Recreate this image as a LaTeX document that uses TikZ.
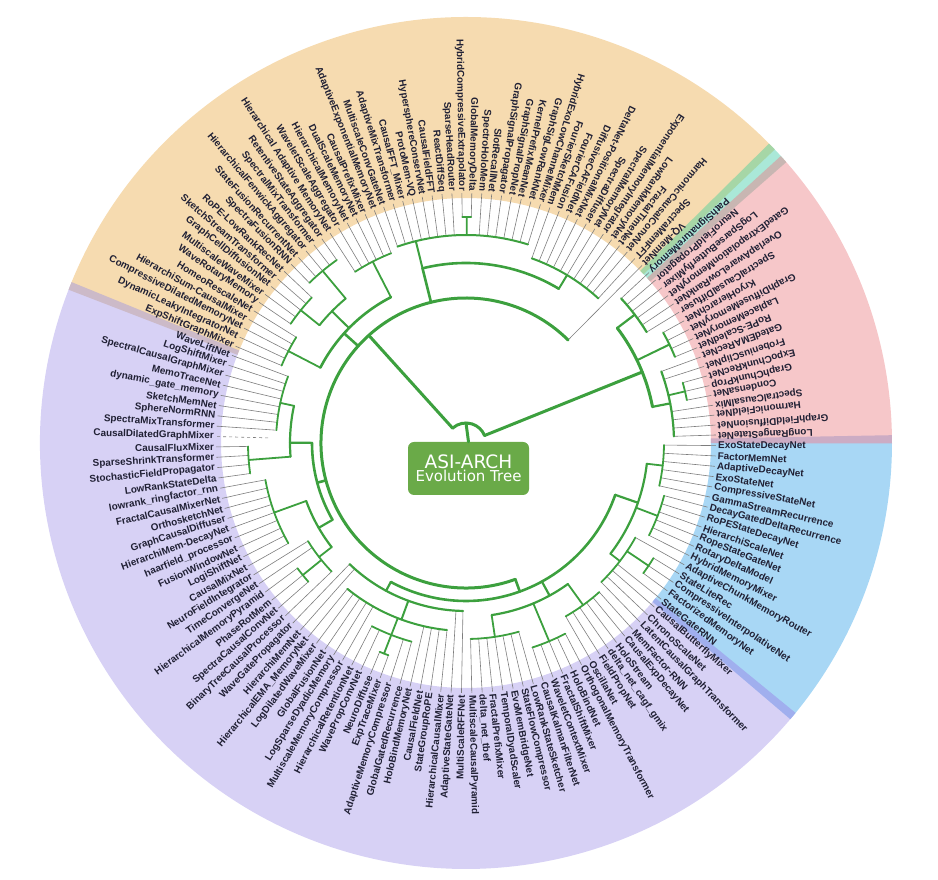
\documentclass[tikz,border=0pt]{standalone}
\usepackage{fontspec}
\setmainfont{Liberation Sans}
\newfontfamily\titlefont{DejaVu Sans}
\usepackage{tikz}
\usetikzlibrary{calc}

\definecolor{orangeSec}{RGB}{246,219,176}
\definecolor{purpleSec}{RGB}{215,209,245}
\definecolor{blueSec}{RGB}{168,215,245}
\definecolor{redSec}{RGB}{246,199,201}
\definecolor{tealSec}{RGB}{170,232,216}
\definecolor{opBand}{RGB}{204,186,200}
\definecolor{pbBand}{RGB}{160,175,238}
\definecolor{rbBand}{RGB}{204,172,196}
\definecolor{otBand}{RGB}{166,214,166}
\definecolor{trBand}{RGB}{200,182,178}
\definecolor{treeGreen}{RGB}{60,160,62}
\definecolor{leafGray}{RGB}{125,125,125}
\definecolor{labelInk}{RGB}{32,32,52}
\definecolor{boxGreen}{RGB}{106,170,72}

% leaf index -> angle (clockwise from east)
\pgfmathdeclarefunction{leafang}{1}{%
  \pgfmathparse{(#1<=85)*(0.6+(#1-1)*2.38)+(#1>85)*(200.5+(#1-85)*2.285)}}

% colored ring sector between two angles
\newcommand{\sectorfill}[3]{%
  \fill[#1] (-#2:245pt) arc[start angle=-#2, end angle=-#3, radius=245pt]
    -- (-#3:426pt) arc[start angle=-#3, end angle=-#2, radius=426pt] -- cycle;}

\tikzset{
  treeline/.style={draw=treeGreen, line cap=round},
  leafline/.style={draw=leafGray, line width=0.6pt},
  leafname/.style={font=\fontsize{9.9}{11}\selectfont\bfseries, text=labelInk, inner sep=0pt},
  centerbox/.style={fill=boxGreen, rounded corners=6pt, minimum width=121pt,
    minimum height=53pt, text=white, align=center, inner sep=0pt}
}

\begin{document}
\begin{tikzpicture}
\useasboundingbox (0,0) rectangle (938pt,880pt);
\begin{scope}[shift={(466pt,437pt)}]

    % Sectors
    \sectorfill{blueSec}{359.5}{399.87}
    \sectorfill{purpleSec}{39.87}{201.64}
    \sectorfill{orangeSec}{201.64}{315.9}
    \sectorfill{tealSec}{315.9}{318.2}
    \sectorfill{redSec}{318.2}{359.5}
    \sectorfill{rbBand}{358.95}{360.05}
    \sectorfill{pbBand}{39.32}{40.42}
    \sectorfill{opBand}{201.09}{202.19}
    \sectorfill{otBand}{315.35}{316.45}
    \sectorfill{trBand}{317.65}{318.75}

    % Leaves
    \foreach \i/\rr/\name in {
      1/198/ExoStateDecayNet, 2/198/FactorMemNet, 3/198/AdaptiveDecayNet,
      4/198/ExoStateNet, 5/198/CompressiveStateNet, 6/198/GammaStreamRecurrence,
      7/205/DecayGatedDeltaRecurrence, 8/205/RoPEStateDecayNet, 9/205/HierarchiScaleNet,
      10/205/RopeStateGateNet, 11/205/RotaryDeltaModel, 12/205/HybridMemoryMixer,
      13/194/AdaptiveChunkMemoryRouter, 14/220/StateLiteRec, 15/220/CompressiveInterpolativeNet,
      16/220/FactorizedMemoryNet, 17/194/StateGateRNN, 18/194/CausalButterflyMixer,
      19/194/ChronoScaleNet, 20/194/LatentCausalGraphTransformer, 21/200/MemFactor-RNN,
      22/200/CausalExpDecayNet, 23/200/HoloStream, 24/200/delta\_net\_cagf\_gmix,
      25/200/FieldPropNet, 26/200/OscillaNet, 27/215/OrthogonalMemoryTransformer,
      28/215/HoloBindNet, 29/215/FractalShiftMixer, 30/215/WaveletContextMixer,
      31/215/CausalKalmanFilterNet, 32/196/LowRankStateSketcher, 33/196/StateFlowCompressor,
      34/196/EvoMemBridgeNet, 35/196/TemporalDyadScaler, 36/196/FractalPrefixMixer,
      37/196/delta\_net\_tbef, 38/196/MultiscaleCausalPyramid, 39/168/MultiScaleRFFNet,
      40/168/AdaptiveStateGateNet, 41/188/HierarchicalCausalMixer, 42/188/StateGroupRoPE,
      43/188/CausalFieldNet, 44/188/HoloBindMemoryNet, 45/206/GlobalGatedRecurrence,
      46/206/AdaptiveMemoryCompressor, 47/226/ExpTraceMixer, 48/226/NeuroDiffuse,
      49/206/WavePropConvNet, 50/206/HierarchicalRetentionNet, 51/188/MultiscaleMemoryCompressor,
      52/188/LogSparseDyadicMemory, 53/188/GlobalFusionNet, 54/188/LogDilatedWaveMixer,
      55/188/HierarchicalEMA\_MemoryNet, 56/168/HierarchiMemNet, 57/168/WaveGatePropagator,
      58/186/BinaryTreeCausalProcessor, 59/210/SpectraCausalConvNet, 60/210/PhaseRotMem,
      61/210/HierarchicalMemoryPyramid, 62/186/TimeConvergeNet, 63/186/NeuroFieldIntegrator,
      64/204/CausalMixNet, 65/204/LogiShiftNet, 66/204/FusionWindowNet,
      67/204/haarfield\_processor, 68/204/HierarchiMem-DecayNet, 69/204/GraphCausalDiffuser,
      70/204/OrthosketchNet, 71/204/FractalCausalMixerNet, 72/204/lowrank\_ringfactor\_rnn,
      73/218/LowRankStateDelta, 74/218/StochasticFieldPropagator, 75/218/SparseShrinkTransformer,
      76/218/CausalFluxMixer, 78/190/SpectraMixTransformer, 79/190/SphereNormRNN,
      80/190/SketchMemNet, 81/190/dynamic\_gate\_memory, 82/190/MemoTraceNet,
      83/190/SpectralCausalGraphMixer, 84/190/LogShiftMixer, 85/190/WaveLiftNet,
      86/200/ExpShiftGraphMixer, 87/200/DynamicLeakyIntegratorNet, 88/200/CompressiveDilatedMemoryNet,
      89/200/HierarchiSum-CausalMixer, 90/200/HomeoRescaleNet, 91/212/WaveRotaryMemory,
      92/212/MultiscaleWaveMixer, 93/212/GraphCellDiffusionNet, 94/212/SketchStreamTransformer,
      95/212/RoPE-LowRankRecNet, 96/224/SpectraFusionRNN, 97/224/StateFusionRecurrentNet,
      98/224/HierarchicalFenwickAggregator, 99/224/SpectralMixTransformer, 100/224/RetentiveStateAggregator,
      101/204/Hierarchical Adaptive MemoryNet, 102/204/WaveletScaleAggregator, 103/204/HierarchicalMemoryNet,
      104/204/DualScaleMemoryNet, 105/204/CausalPrefixMixer, 106/204/AdaptiveExponentialMemoryNet,
      107/208/MultiscaleConvGateNet, 108/208/AdaptiveMixTransformer, 109/208/CausalFFT\_Mixer,
      110/208/ProtoMem-VQ, 111/208/HypersphereConservNet, 112/208/CausalFieldFFT,
      113/208/ReactDiffSeq, 114/208/SparseHeadRouter, 115/226/HybridCompressiveExtrapolator,
      116/226/GlobalMemoryDelta, 117/208/SpectroHoloMem, 118/208/SlotRecallNet,
      119/208/GraphSignalPropagator, 120/208/GraphSignalPropNet, 121/208/KernelPrefixMeanNet,
      122/208/GraphSigLowRankNet, 123/208/HybridExoLowChannelMixer, 124/196/FourierSketchMem,
      125/196/FourierCAFusion, 126/196/DiffusiveCAFieldNet, 127/196/DeltaNet-PositionalMixNet,
      128/196/SpectraDiffuser, 129/196/SpectralMemoryNet, 130/196/ExponentialMemoryIntegrator,
      131/196/LowRankMemoryNet, 132/196/FractalTimeNet, 133/196/HarmonicCausalConvNet,
      134/196/SpectraMemFFT, 135/145/VQ-MemNet, 136/212/PathSignatureMemory,
      137/212/NeuroFieldPropagator, 138/212/LogSparseButterflyMixer, 139/212/GatedExtrapolationMemoryNet,
      140/212/OverlapAwareLowRankNet, 141/212/SpectralCausalDiffuser, 142/226/KryoHierarchNet,
      143/226/GraphDiffuseMemoryNet, 144/226/LaplaceMemoryNet, 145/226/RoPE-ScaledNet,
      146/208/GatedEMARecNet, 147/208/FrobeniusClipNet, 148/225/ExpoChunkRecNet,
      149/225/GraphChunkProp, 150/225/CondensaNet, 151/208/SpectralCausalMix,
      152/208/HarmonicFieldNet, 153/208/GraphFieldDiffusionNet, 154/208/LongRangeStateNet}{
      \pgfmathsetmacro\la{leafang(\i)}
      \draw[leafline] (-\la:\rr pt) -- (-\la:250pt);
      \ifnum\i<39
        \node[leafname, anchor=west, rotate=-\la] (leaf\i) at (-\la:252pt) {\name};
      \else
        \node[leafname, anchor=east, rotate=180-\la] (leaf\i) at (-\la:252pt) {\name};
      \fi
    }
    \pgfmathsetmacro\la{leafang(77)}
    \draw[leafline, dashed] (-\la:198pt) -- (-\la:250pt);
    \node[leafname, anchor=east, rotate=180-\la] (leaf77) at (-\la:252pt) {CausalDilatedGraphMixer};

    % Branches: position / parent radius / radius / span from / span to / width
    \foreach \pos/\rp/\ro/\sa/\sb/\w in {
      97/20/145/30.2/135/3.0, 145.2/20/190/138.5/150/3.0,
      30.2/145/158/8.8/50.5/2.6, 70.1/145/154/63.8/76.4/2.6,
      94.4/145/164/88/103.5/2.6, 109.3/145/180/109.3/129/2.6,
      8.8/158/182/3.5/16.5/2.2, 26.5/158/174/23.5/35/2.2, 50.5/158/168/39/57/2.2,
      3.5/182/198/1/6/1.8, 9.5/182/205/7/12/1.8, 16.5/182/194/13/20/1.8, 15/194/220/14/16/1.8,
      23.5/174/200/21/26/1.8, 29/174/215/27/31/1.8, 35/174/196/32/38/1.8,
      47/168/188/41/55/2.0, 47.5/188/206/45/50/1.8, 47.5/206/226/47/48/1.8,
      63.8/154/170/60.5/68/2.2, 60.5/170/186/58/63/1.8, 60/186/210/59/61/1.8, 68/170/204/64/72/1.8,
      76.4/154/176/74.5/81.5/2.2, 74.5/176/218/73/76/1.8, 81.5/176/190/78/85/1.8,
      88/164/200/86/90/1.8, 95.5/164/188/93/98/2.0, 93/188/212/91/95/1.8,
      98/188/224/96/100/1.8, 103.5/164/204/101/106/1.8,
      109.3/180/208/107/123/2.0, 115.5/208/226/115/116/1.8, 129/180/196/124/134/2.0,
      138.5/190/212/136/141/2.2, 143.5/190/226/142/145/2.0, 150/190/208/146/154/2.2,
      149/208/225/148/150/1.8}{
      \pgfmathsetmacro\tp{leafang(\pos)}
      \pgfmathsetmacro\ta{leafang(\sa)}
      \pgfmathsetmacro\tb{leafang(\sb)}
      \draw[treeline, line width=\w pt] (-\tp:\rp pt) -- (-\tp:\ro pt);
      \draw[treeline, line width=\w pt] (-\ta:\ro pt) arc[start angle=-\ta, end angle=-\tb, radius=\ro pt];
    }

    % Root
    \pgfmathsetmacro\ta{leafang(97)}
    \pgfmathsetmacro\tb{leafang(145.2)}
    \draw[treeline, line width=3pt] (-\ta:20pt) arc[start angle=-\ta, end angle=-\tb, radius=20pt];
    \node[centerbox] (title) at (2.5pt,-25.5pt)
      {{\titlefont\fontsize{18.5}{20}\selectfont ASI-ARCH}\\[1pt]{\titlefont\fontsize{15}{17}\selectfont Evolution Tree}};
    \draw[treeline, line width=3pt] (title.north) -- (90:20pt);

\end{scope}
\end{tikzpicture}
\end{document}
